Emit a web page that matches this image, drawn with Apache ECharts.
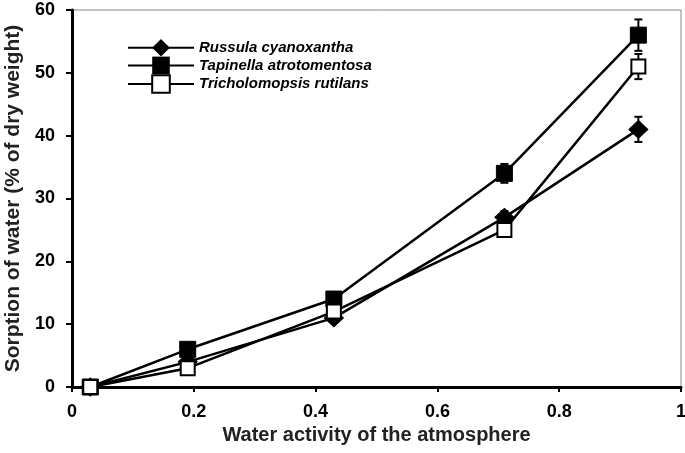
<!DOCTYPE html>
<html><head><meta charset="utf-8">
<script src="https://cdn.jsdelivr.net/npm/echarts@6/dist/echarts.min.js"></script>
<style>html,body{margin:0;padding:0;background:#fff}#c{width:685px;height:453px}</style>
</head><body><div id="c"></div>
<script>
const waterActivity = [0.03, 0.19, 0.43, 0.71, 0.93];
const seriesNames = ['Russula cyanoxantha', 'Tapinella atrotomentosa', 'Tricholomopsis rutilans'];
const russula = [0, 4, 11, 27, 41];
const tapinella = [0, 6, 14, 34, 56];
const tricholomopsis = [0, 3, 12, 25, 51];
const russulaErr = [0, 0.3, 0.5, 1, 2];
const tapinellaErr = [0, 0.5, 0.5, 1.5, 2.5];
const tricholomopsisErr = [0, 0.4, 0.5, 1, 2];

const chart = echarts.init(document.getElementById('c'));
const font = 'Arial, "Liberation Sans", sans-serif';

function pts(vals){ return waterActivity.map((x,i)=>[x, vals[i]]); }
function errData(vals, errs){ return waterActivity.map((x,i)=>[x, vals[i]-errs[i], vals[i]+errs[i]]); }
function errSeries(vals, errs){
  return {
    type:'custom', silent:true, z:1,
    data: errData(vals, errs),
    renderItem(params, api){
      const x = api.value(0);
      const lo = api.coord([x, api.value(1)]);
      const hi = api.coord([x, api.value(2)]);
      const w = 4;
      const st = {stroke:'#000', lineWidth:2};
      return {type:'group', children:[
        {type:'line', shape:{x1:lo[0],y1:lo[1],x2:hi[0],y2:hi[1]}, style:st},
        {type:'line', shape:{x1:lo[0]-w,y1:lo[1],x2:lo[0]+w,y2:lo[1]}, style:st},
        {type:'line', shape:{x1:hi[0]-w,y1:hi[1],x2:hi[0]+w,y2:hi[1]}, style:st}
      ]};
    }
  };
}

chart.setOption({
  animation:false,
  backgroundColor:'#fff',
  grid:{left:72, right:4, top:10, bottom:66, containLabel:false, outerBoundsMode:'none',
    show:true, borderColor:'#888', borderWidth:1},
  legend:{
    left:122, top:34, orient:'vertical', itemGap:0, itemWidth:66, itemHeight:22,
    textStyle:{fontFamily:font, fontStyle:'italic', fontWeight:'bold', fontSize:15, color:'#000'},
    data: seriesNames
  },
  xAxis:{
    type:'value', min:0, max:1, interval:0.2,
    axisLine:{show:true, lineStyle:{color:'#000', width:3}},
    axisTick:{show:true, length:5, lineStyle:{color:'#000', width:2}},
    splitLine:{show:false},
    axisLabel:{fontFamily:font, fontWeight:'bold', fontSize:18, color:'#000', margin:16,
      formatter:v=>String(+v.toFixed(1))},
    name:'Water activity of the atmosphere', nameLocation:'middle', nameGap:36,
    nameTextStyle:{fontFamily:font, fontWeight:'bold', fontSize:20, color:'#222'}
  },
  yAxis:{
    type:'value', min:0, max:60, interval:10,
    axisLine:{show:true, lineStyle:{color:'#000', width:3}},
    axisTick:{show:true, length:6, lineStyle:{color:'#000', width:2}},
    splitLine:{show:false},
    axisLabel:{fontFamily:font, fontWeight:'bold', fontSize:18, color:'#000', margin:17},
    name:'Sorption of water (% of dry weight)', nameLocation:'middle', nameGap:46,
    nameTextStyle:{fontFamily:font, fontWeight:'bold', fontSize:21, color:'#222'}
  },
  series:[
    errSeries(russula, russulaErr),
    errSeries(tapinella, tapinellaErr),
    errSeries(tricholomopsis, tricholomopsisErr),
    {name:seriesNames[0], type:'line', data:pts(russula), symbol:'diamond', symbolSize:[19,18],
      lineStyle:{color:'#000', width:2.5}, itemStyle:{color:'#000', borderColor:'#000'}, z:2},
    {name:seriesNames[1], type:'line', data:pts(tapinella), symbol:'rect', symbolSize:16,
      lineStyle:{color:'#000', width:2.5}, itemStyle:{color:'#000', borderColor:'#000'}, z:3},
    {name:seriesNames[2], type:'line', data:pts(tricholomopsis), symbol:'rect', symbolSize:14,
      lineStyle:{color:'#000', width:2.5}, itemStyle:{color:'#fff', borderColor:'#000', borderWidth:2}, z:4}
  ]
});
</script></body></html>
